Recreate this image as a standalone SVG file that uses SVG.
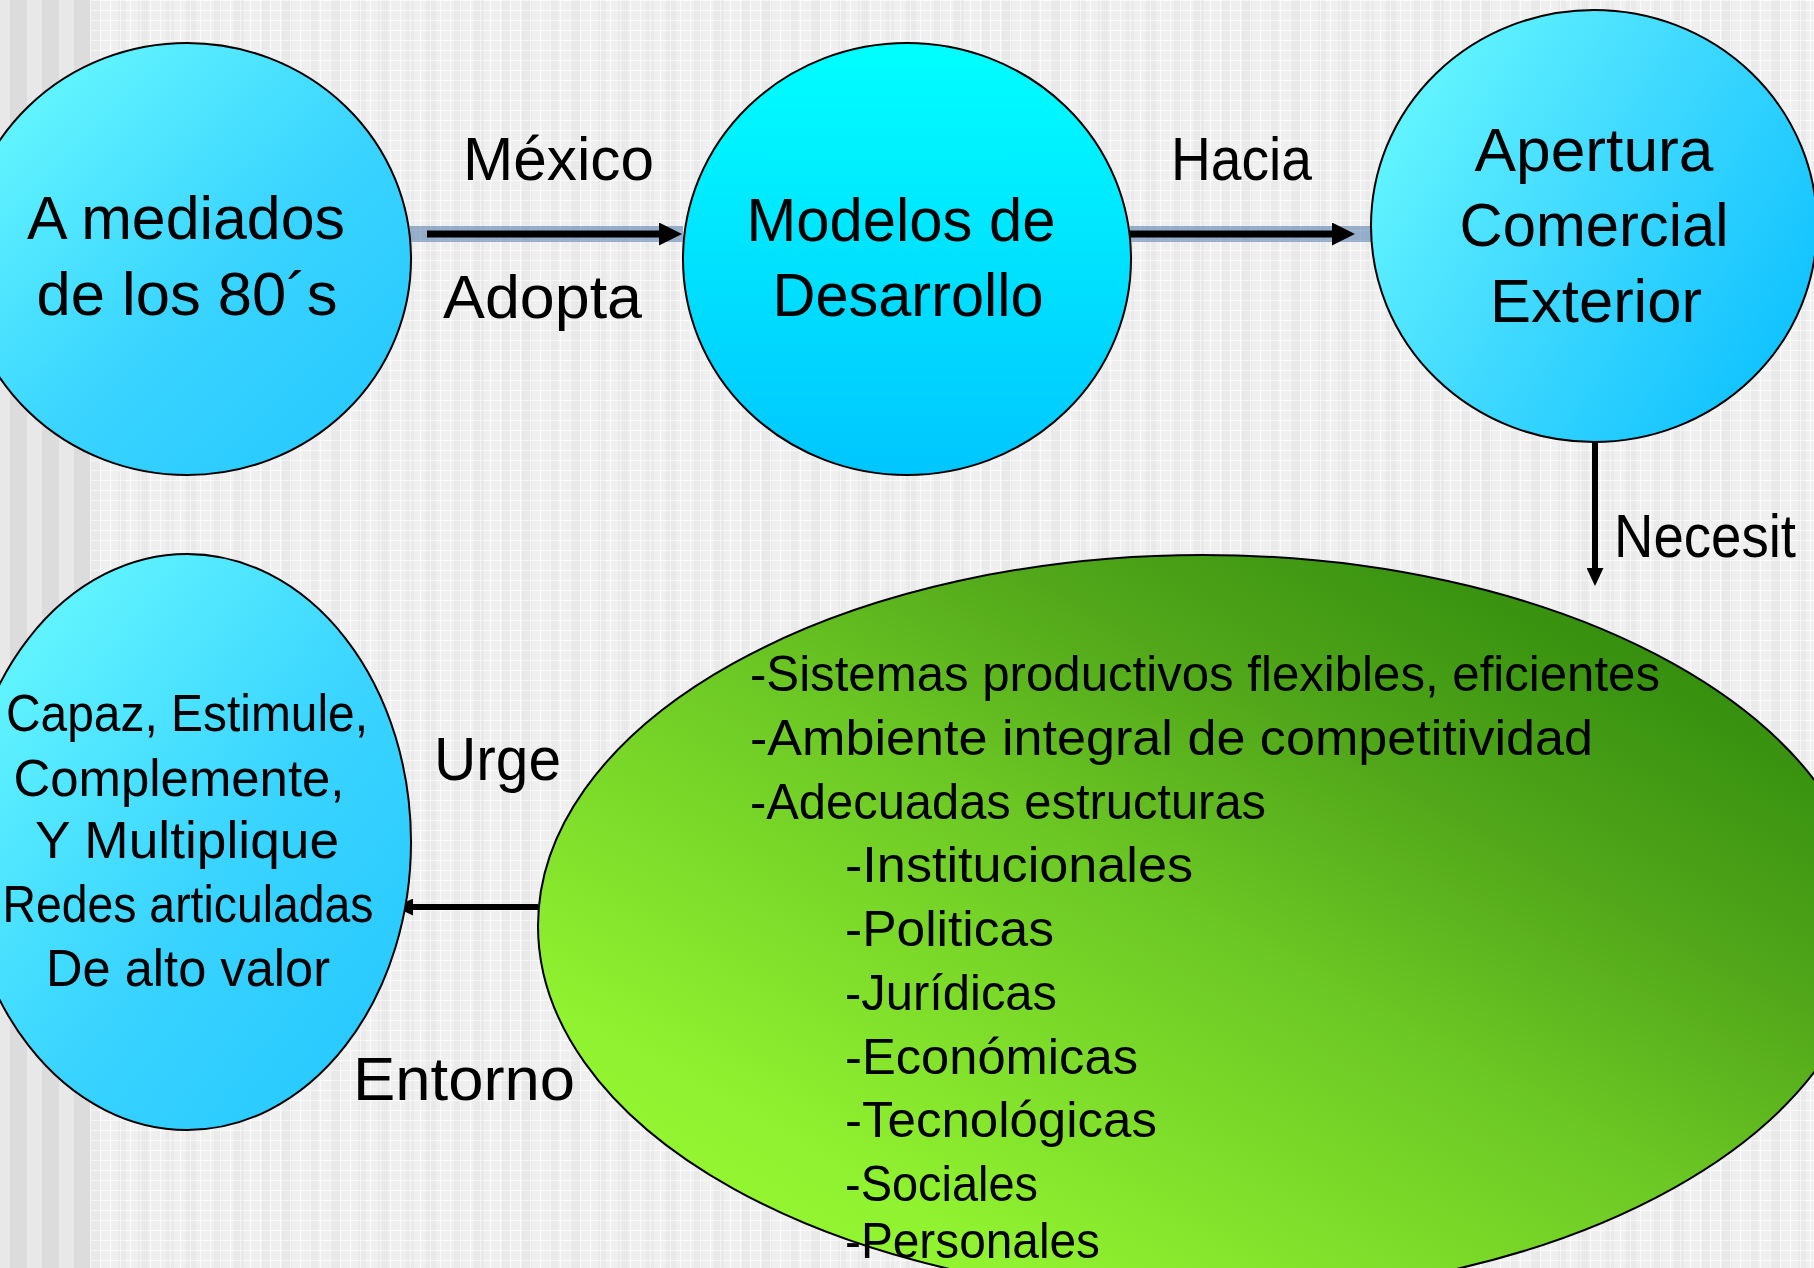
<svg xmlns="http://www.w3.org/2000/svg" width="1814" height="1268" viewBox="0 0 1814 1268">
  <defs>
    <pattern id="grid" x="0" y="0" width="10" height="10" patternUnits="userSpaceOnUse">
      <rect width="10" height="10" fill="#efefef"/>
      <path d="M0,0.5 H10 M0.5,0 V10" stroke="#fafafa" stroke-width="1.2" fill="none"/>
    </pattern>
    <pattern id="bands" x="90" y="0" width="48" height="10" patternUnits="userSpaceOnUse">
      <rect x="0" y="0" width="10" height="10" fill="#000" fill-opacity="0.025"/>
      <rect x="28" y="0" width="8" height="10" fill="#000" fill-opacity="0.02"/>
    </pattern>
    <linearGradient id="gBlue" x1="0" y1="0" x2="1" y2="1">
      <stop offset="0" stop-color="#6fffff"/>
      <stop offset="0.55" stop-color="#3ad4ff"/>
      <stop offset="1" stop-color="#22c6ff"/>
    </linearGradient>
    <linearGradient id="gBlue3" x1="0" y1="0" x2="1" y2="0.6">
      <stop offset="0" stop-color="#6effff"/>
      <stop offset="0.5" stop-color="#45dcff"/>
      <stop offset="1" stop-color="#14c4ff"/>
    </linearGradient>
    <linearGradient id="gCyan" x1="0" y1="0" x2="0" y2="1">
      <stop offset="0" stop-color="#00ffff"/>
      <stop offset="1" stop-color="#00c6ff"/>
    </linearGradient>
    <linearGradient id="gGreen" x1="0" y1="1" x2="1" y2="0">
      <stop offset="0" stop-color="#9aff33"/>
      <stop offset="0.2" stop-color="#90f230"/>
      <stop offset="0.5" stop-color="#6cc824"/>
      <stop offset="0.67" stop-color="#52a81a"/>
      <stop offset="0.9" stop-color="#2f8a0c"/>
      <stop offset="1" stop-color="#2a8308"/>
    </linearGradient>
    <marker id="headL" markerUnits="userSpaceOnUse" markerWidth="23" markerHeight="23" refX="0" refY="11.5" orient="auto">
      <path d="M0,0 L23,11.5 L0,23 Z" fill="#000"/>
    </marker>
    <marker id="headS" markerUnits="userSpaceOnUse" markerWidth="18" markerHeight="17" refX="0" refY="8.5" orient="auto">
      <path d="M0,0 L18,8.5 L0,17 Z" fill="#000"/>
    </marker>
    <style>
      .node { stroke: #000; stroke-width: 2; }
      text { font-family: "Liberation Sans", Arial, sans-serif; fill: #000; }
      .big { font-size: 62px; text-anchor: middle; }
      .lbl { font-size: 62px; }
      .mid { font-size: 52px; text-anchor: middle; }
      .lst { font-size: 50px; }
      .edge { stroke: #000; fill: none; }
      .band { fill: #4f78ac; fill-opacity: 0.55; }
    </style>
  </defs>

  <!-- background -->
  <rect x="0" y="0" width="1814" height="1268" fill="url(#grid)"/>
  <rect x="90" y="0" width="1724" height="1268" fill="url(#bands)"/>
  <g id="side-stripes">
    <rect x="0" y="0" width="90" height="1268" fill="#e8e8e8"/>
    <rect x="10" y="0" width="17" height="1268" fill="#dcdcdc"/>
    <rect x="42" y="0" width="17" height="1268" fill="#dcdcdc"/>
    <rect x="74" y="0" width="16" height="1268" fill="#dcdcdc"/>
  </g>

  <!-- connectors -->
  <g id="connectors">
    <rect class="band" x="410" y="226" width="273" height="16"/>
    <rect class="band" x="1130" y="226" width="241" height="16"/>
    <line class="edge" x1="427" y1="234" x2="659" y2="234" stroke-width="7" marker-end="url(#headL)"/>
    <line class="edge" x1="1130" y1="234" x2="1332" y2="234" stroke-width="7" marker-end="url(#headL)"/>
    <line class="edge" x1="1595" y1="442" x2="1595" y2="568" stroke-width="6" marker-end="url(#headS)"/>
    <line class="edge" x1="538" y1="907" x2="413" y2="907" stroke-width="6" marker-end="url(#headS)"/>
    <text class="lbl" x="463" y="180" textLength="191" lengthAdjust="spacingAndGlyphs">México</text>
    <text class="lbl" x="443" y="318" textLength="199" lengthAdjust="spacingAndGlyphs">Adopta</text>
    <text class="lbl" x="1171" y="180" textLength="141" lengthAdjust="spacingAndGlyphs">Hacia</text>
    <text class="lbl" x="1614" y="557" textLength="182" lengthAdjust="spacingAndGlyphs">Necesit</text>
    <text class="lbl" x="434" y="780" textLength="127" lengthAdjust="spacingAndGlyphs">Urge</text>
    <text class="lbl" x="353" y="1100" textLength="222" lengthAdjust="spacingAndGlyphs">Entorno</text>
  </g>

  <!-- nodes -->
  <g id="node-mediados">
    <ellipse class="node" cx="187" cy="259" rx="224" ry="216" fill="url(#gBlue)"/>
    <text class="big" x="186" y="239" textLength="318" lengthAdjust="spacingAndGlyphs">A mediados</text>
    <text class="big" x="187" y="315" textLength="301" lengthAdjust="spacingAndGlyphs">de los 80´s</text>
  </g>

  <g id="node-modelos">
    <ellipse class="node" cx="907" cy="259" rx="224" ry="216" fill="url(#gCyan)"/>
    <text class="big" x="901" y="241" textLength="309" lengthAdjust="spacingAndGlyphs">Modelos de</text>
    <text class="big" x="908" y="316" textLength="271" lengthAdjust="spacingAndGlyphs">Desarrollo</text>
  </g>

  <g id="node-apertura">
    <ellipse class="node" cx="1594" cy="226" rx="223" ry="216" fill="url(#gBlue3)"/>
    <text class="big" x="1594" y="171" textLength="239" lengthAdjust="spacingAndGlyphs">Apertura</text>
    <text class="big" x="1594" y="246" textLength="269" lengthAdjust="spacingAndGlyphs">Comercial</text>
    <text class="big" x="1596" y="322" textLength="212" lengthAdjust="spacingAndGlyphs">Exterior</text>
  </g>

  <g id="node-capaz">
    <ellipse class="node" cx="187" cy="842" rx="224" ry="288" fill="url(#gBlue)"/>
    <text class="mid" x="187" y="731" textLength="362" lengthAdjust="spacingAndGlyphs">Capaz, Estimule,</text>
    <text class="mid" x="179" y="796" textLength="331" lengthAdjust="spacingAndGlyphs">Complemente,</text>
    <text class="mid" x="187" y="858" textLength="304" lengthAdjust="spacingAndGlyphs">Y Multiplique</text>
    <text class="mid" x="188" y="922" textLength="371" lengthAdjust="spacingAndGlyphs">Redes articuladas</text>
    <text class="mid" x="188" y="986" textLength="284" lengthAdjust="spacingAndGlyphs">De alto valor</text>
  </g>

  <g id="node-sistemas">
    <ellipse class="node" cx="1203" cy="926" rx="665" ry="371" fill="url(#gGreen)"/>
    <text class="lst" x="750" y="691" textLength="910" lengthAdjust="spacingAndGlyphs">-Sistemas productivos flexibles, eficientes</text>
    <text class="lst" x="750" y="755" textLength="843" lengthAdjust="spacingAndGlyphs">-Ambiente integral de competitividad</text>
    <text class="lst" x="750" y="819" textLength="516" lengthAdjust="spacingAndGlyphs">-Adecuadas estructuras</text>
    <text class="lst" x="845" y="882" textLength="348" lengthAdjust="spacingAndGlyphs">-Institucionales</text>
    <text class="lst" x="845" y="946" textLength="209" lengthAdjust="spacingAndGlyphs">-Politicas</text>
    <text class="lst" x="845" y="1010" textLength="212" lengthAdjust="spacingAndGlyphs">-Jurídicas</text>
    <text class="lst" x="845" y="1074" textLength="293" lengthAdjust="spacingAndGlyphs">-Económicas</text>
    <text class="lst" x="845" y="1137" textLength="312" lengthAdjust="spacingAndGlyphs">-Tecnológicas</text>
    <text class="lst" x="845" y="1201" textLength="193" lengthAdjust="spacingAndGlyphs">-Sociales</text>
    <text class="lst" x="845" y="1258" textLength="255" lengthAdjust="spacingAndGlyphs">-Personales</text>
  </g>
</svg>
